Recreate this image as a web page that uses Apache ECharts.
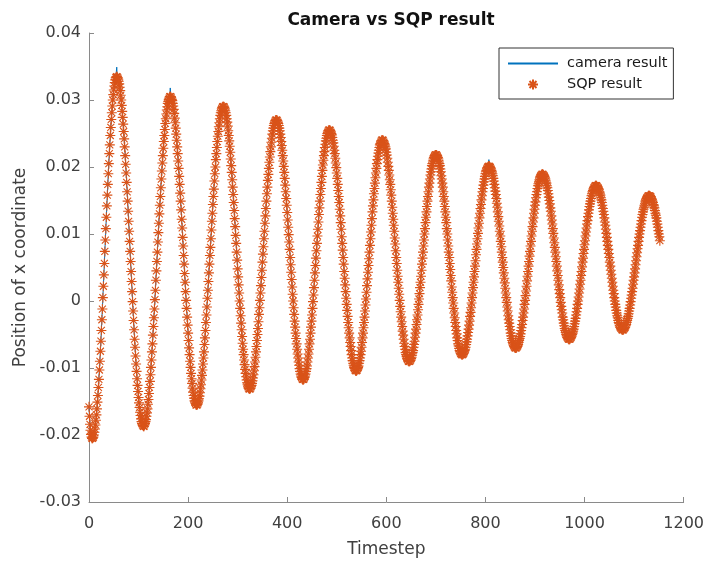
<!DOCTYPE html>
<html>
<head>
<meta charset="utf-8">
<title>Camera vs SQP result</title>
<script src="https://cdn.jsdelivr.net/npm/echarts@6/dist/echarts.min.js"></script>
<style>
  html, body { margin: 0; padding: 0; background: #fff; }
  #chart { width: 707px; height: 563px; }
</style>
</head>
<body>
<div id="chart"></div>
<script>
// x position of the tracked point, one value per timestep (t = 0, 1, 2, ...)
const sqpResult = [
  // t 0-7
  -0.0158, -0.0172, -0.0184, -0.0193, -0.0199, -0.0203, -0.0205, -0.0205,
  // t 8-56
  -0.0204, -0.0203, -0.0200, -0.0196, -0.0191, -0.0185, -0.0178, -0.0170, -0.0161, -0.0151,
  -0.0141, -0.0129, -0.0117, -0.0103, -0.0090, -0.0075, -0.0060, -0.0044, -0.0028, -0.0012,
  0.0005, 0.0022, 0.0039, 0.0056, 0.0074, 0.0091, 0.0108, 0.0125, 0.0142, 0.0158,
  0.0174, 0.0190, 0.0205, 0.0220, 0.0233, 0.0247, 0.0259, 0.0271, 0.0281, 0.0291,
  0.0300, 0.0308, 0.0315, 0.0321, 0.0326, 0.0330, 0.0333, 0.0334, 0.0335,
  // t 57-110
  0.0334, 0.0333, 0.0331, 0.0328, 0.0324, 0.0319, 0.0314, 0.0307, 0.0300, 0.0292,
  0.0283, 0.0274, 0.0264, 0.0253, 0.0242, 0.0230, 0.0217, 0.0204, 0.0191, 0.0177,
  0.0163, 0.0149, 0.0134, 0.0119, 0.0104, 0.0089, 0.0074, 0.0059, 0.0044, 0.0029,
  0.0014, -0.0001, -0.0015, -0.0029, -0.0043, -0.0057, -0.0069, -0.0082, -0.0094, -0.0105,
  -0.0116, -0.0126, -0.0135, -0.0144, -0.0152, -0.0159, -0.0166, -0.0171, -0.0176, -0.0180,
  -0.0183, -0.0185, -0.0186, -0.0187,
  // t 111-164
  -0.0187, -0.0185, -0.0183, -0.0180, -0.0177, -0.0172, -0.0167, -0.0161, -0.0154, -0.0147,
  -0.0138, -0.0129, -0.0120, -0.0110, -0.0099, -0.0088, -0.0076, -0.0064, -0.0051, -0.0038,
  -0.0025, -0.0012, 0.0002, 0.0016, 0.0031, 0.0045, 0.0059, 0.0073, 0.0088, 0.0102,
  0.0116, 0.0130, 0.0143, 0.0156, 0.0169, 0.0182, 0.0194, 0.0206, 0.0217, 0.0228,
  0.0238, 0.0247, 0.0256, 0.0265, 0.0272, 0.0279, 0.0285, 0.0290, 0.0295, 0.0298,
  0.0301, 0.0303, 0.0305, 0.0305,
  // t 165-217
  0.0305, 0.0303, 0.0301, 0.0299, 0.0295, 0.0291, 0.0286, 0.0280, 0.0273, 0.0266,
  0.0258, 0.0249, 0.0240, 0.0230, 0.0220, 0.0209, 0.0198, 0.0186, 0.0174, 0.0161,
  0.0149, 0.0136, 0.0122, 0.0109, 0.0095, 0.0082, 0.0068, 0.0055, 0.0041, 0.0028,
  0.0014, 0.0001, -0.0011, -0.0024, -0.0036, -0.0048, -0.0059, -0.0070, -0.0080, -0.0090,
  -0.0099, -0.0108, -0.0116, -0.0123, -0.0130, -0.0136, -0.0141, -0.0145, -0.0149, -0.0151,
  -0.0153, -0.0155, -0.0155,
  // t 218-271
  -0.0155, -0.0154, -0.0152, -0.0149, -0.0146, -0.0142, -0.0137, -0.0131, -0.0125, -0.0118,
  -0.0111, -0.0103, -0.0094, -0.0085, -0.0076, -0.0065, -0.0055, -0.0044, -0.0032, -0.0021,
  -0.0009, 0.0004, 0.0016, 0.0029, 0.0042, 0.0055, 0.0068, 0.0080, 0.0093, 0.0106,
  0.0119, 0.0131, 0.0144, 0.0156, 0.0167, 0.0179, 0.0190, 0.0200, 0.0211, 0.0220,
  0.0229, 0.0238, 0.0246, 0.0253, 0.0260, 0.0266, 0.0272, 0.0277, 0.0281, 0.0284,
  0.0287, 0.0289, 0.0290, 0.0290,
  // t 272-324
  0.0290, 0.0289, 0.0287, 0.0284, 0.0281, 0.0277, 0.0272, 0.0267, 0.0261, 0.0254,
  0.0247, 0.0239, 0.0231, 0.0222, 0.0212, 0.0202, 0.0192, 0.0181, 0.0170, 0.0159,
  0.0147, 0.0135, 0.0123, 0.0111, 0.0098, 0.0086, 0.0073, 0.0061, 0.0048, 0.0036,
  0.0024, 0.0012, 0.0000, -0.0011, -0.0022, -0.0033, -0.0043, -0.0053, -0.0063, -0.0072,
  -0.0080, -0.0088, -0.0095, -0.0102, -0.0108, -0.0113, -0.0118, -0.0122, -0.0125, -0.0128,
  -0.0130, -0.0131, -0.0131,
  // t 325-378
  -0.0131, -0.0130, -0.0128, -0.0126, -0.0123, -0.0119, -0.0115, -0.0110, -0.0104, -0.0098,
  -0.0091, -0.0084, -0.0076, -0.0068, -0.0059, -0.0050, -0.0041, -0.0031, -0.0020, -0.0010,
  0.0001, 0.0012, 0.0023, 0.0035, 0.0046, 0.0058, 0.0070, 0.0081, 0.0093, 0.0104,
  0.0116, 0.0127, 0.0138, 0.0149, 0.0160, 0.0170, 0.0180, 0.0189, 0.0198, 0.0207,
  0.0215, 0.0223, 0.0230, 0.0237, 0.0243, 0.0249, 0.0254, 0.0258, 0.0262, 0.0265,
  0.0267, 0.0269, 0.0270, 0.0270,
  // t 379-432
  0.0270, 0.0269, 0.0267, 0.0265, 0.0262, 0.0258, 0.0254, 0.0249, 0.0244, 0.0238,
  0.0232, 0.0225, 0.0217, 0.0209, 0.0201, 0.0192, 0.0183, 0.0173, 0.0163, 0.0153,
  0.0143, 0.0132, 0.0121, 0.0110, 0.0099, 0.0088, 0.0077, 0.0065, 0.0054, 0.0043,
  0.0032, 0.0021, 0.0010, 0.0000, -0.0010, -0.0020, -0.0030, -0.0039, -0.0048, -0.0056,
  -0.0064, -0.0072, -0.0079, -0.0085, -0.0091, -0.0096, -0.0101, -0.0105, -0.0109, -0.0112,
  -0.0114, -0.0116, -0.0117, -0.0117,
  // t 433-485
  -0.0117, -0.0116, -0.0114, -0.0112, -0.0109, -0.0105, -0.0101, -0.0097, -0.0091, -0.0085,
  -0.0079, -0.0072, -0.0064, -0.0057, -0.0048, -0.0039, -0.0030, -0.0021, -0.0011, -0.0001,
  0.0009, 0.0020, 0.0031, 0.0042, 0.0053, 0.0064, 0.0075, 0.0086, 0.0097, 0.0107,
  0.0118, 0.0129, 0.0139, 0.0149, 0.0159, 0.0168, 0.0177, 0.0186, 0.0195, 0.0203,
  0.0210, 0.0217, 0.0223, 0.0229, 0.0234, 0.0239, 0.0243, 0.0247, 0.0250, 0.0252,
  0.0254, 0.0255, 0.0255,
  // t 486-539
  0.0255, 0.0254, 0.0252, 0.0250, 0.0248, 0.0244, 0.0240, 0.0236, 0.0231, 0.0225,
  0.0220, 0.0213, 0.0206, 0.0199, 0.0191, 0.0183, 0.0174, 0.0165, 0.0156, 0.0147,
  0.0137, 0.0127, 0.0117, 0.0107, 0.0096, 0.0086, 0.0076, 0.0065, 0.0055, 0.0044,
  0.0034, 0.0024, 0.0014, 0.0004, -0.0005, -0.0014, -0.0023, -0.0032, -0.0040, -0.0048,
  -0.0055, -0.0062, -0.0068, -0.0074, -0.0080, -0.0085, -0.0089, -0.0093, -0.0096, -0.0099,
  -0.0101, -0.0103, -0.0104, -0.0104,
  // t 540-592
  -0.0104, -0.0103, -0.0101, -0.0099, -0.0097, -0.0093, -0.0089, -0.0085, -0.0080, -0.0075,
  -0.0069, -0.0062, -0.0055, -0.0048, -0.0040, -0.0032, -0.0024, -0.0015, -0.0006, 0.0003,
  0.0013, 0.0023, 0.0033, 0.0043, 0.0053, 0.0063, 0.0073, 0.0083, 0.0093, 0.0103,
  0.0113, 0.0123, 0.0133, 0.0142, 0.0151, 0.0160, 0.0168, 0.0176, 0.0184, 0.0191,
  0.0198, 0.0205, 0.0211, 0.0216, 0.0221, 0.0225, 0.0229, 0.0233, 0.0235, 0.0237,
  0.0239, 0.0240, 0.0240,
  // t 593-646
  0.0240, 0.0239, 0.0237, 0.0235, 0.0233, 0.0230, 0.0227, 0.0222, 0.0218, 0.0213,
  0.0207, 0.0201, 0.0195, 0.0188, 0.0181, 0.0174, 0.0166, 0.0158, 0.0149, 0.0140,
  0.0131, 0.0122, 0.0113, 0.0104, 0.0094, 0.0085, 0.0075, 0.0065, 0.0056, 0.0046,
  0.0037, 0.0028, 0.0019, 0.0010, 0.0001, -0.0008, -0.0016, -0.0024, -0.0031, -0.0038,
  -0.0045, -0.0051, -0.0057, -0.0063, -0.0068, -0.0072, -0.0077, -0.0080, -0.0083, -0.0086,
  -0.0087, -0.0089, -0.0090, -0.0090,
  // t 647-700
  -0.0090, -0.0089, -0.0088, -0.0086, -0.0084, -0.0081, -0.0077, -0.0074, -0.0069, -0.0065,
  -0.0060, -0.0054, -0.0048, -0.0042, -0.0035, -0.0028, -0.0021, -0.0013, -0.0005, 0.0003,
  0.0011, 0.0020, 0.0028, 0.0037, 0.0046, 0.0055, 0.0064, 0.0073, 0.0082, 0.0091,
  0.0100, 0.0108, 0.0117, 0.0125, 0.0133, 0.0141, 0.0149, 0.0156, 0.0163, 0.0170,
  0.0176, 0.0182, 0.0188, 0.0193, 0.0197, 0.0202, 0.0205, 0.0209, 0.0212, 0.0214,
  0.0216, 0.0217, 0.0218, 0.0218,
  // t 701-753
  0.0218, 0.0217, 0.0216, 0.0214, 0.0212, 0.0209, 0.0205, 0.0202, 0.0197, 0.0193,
  0.0187, 0.0182, 0.0176, 0.0170, 0.0163, 0.0156, 0.0149, 0.0141, 0.0133, 0.0125,
  0.0117, 0.0108, 0.0100, 0.0091, 0.0082, 0.0073, 0.0065, 0.0056, 0.0047, 0.0038,
  0.0030, 0.0021, 0.0013, 0.0005, -0.0003, -0.0011, -0.0018, -0.0025, -0.0032, -0.0038,
  -0.0044, -0.0049, -0.0055, -0.0059, -0.0064, -0.0067, -0.0071, -0.0074, -0.0076, -0.0078,
  -0.0079, -0.0080, -0.0080,
  // t 754-807
  -0.0080, -0.0079, -0.0078, -0.0076, -0.0074, -0.0072, -0.0069, -0.0065, -0.0061, -0.0057,
  -0.0052, -0.0047, -0.0042, -0.0036, -0.0030, -0.0023, -0.0017, -0.0010, -0.0003, 0.0005,
  0.0012, 0.0020, 0.0028, 0.0036, 0.0044, 0.0052, 0.0060, 0.0069, 0.0077, 0.0085,
  0.0093, 0.0101, 0.0109, 0.0116, 0.0124, 0.0131, 0.0138, 0.0144, 0.0151, 0.0157,
  0.0163, 0.0168, 0.0173, 0.0178, 0.0182, 0.0186, 0.0190, 0.0193, 0.0195, 0.0197,
  0.0199, 0.0200, 0.0201, 0.0201,
  // t 808-861
  0.0201, 0.0200, 0.0199, 0.0197, 0.0195, 0.0193, 0.0190, 0.0187, 0.0183, 0.0179,
  0.0174, 0.0169, 0.0164, 0.0159, 0.0153, 0.0146, 0.0140, 0.0133, 0.0126, 0.0119,
  0.0112, 0.0104, 0.0097, 0.0089, 0.0081, 0.0073, 0.0065, 0.0058, 0.0050, 0.0042,
  0.0034, 0.0027, 0.0019, 0.0012, 0.0005, -0.0002, -0.0009, -0.0015, -0.0022, -0.0028,
  -0.0033, -0.0038, -0.0043, -0.0048, -0.0052, -0.0056, -0.0059, -0.0062, -0.0064, -0.0066,
  -0.0068, -0.0069, -0.0070, -0.0070,
  // t 862-915
  -0.0070, -0.0069, -0.0068, -0.0067, -0.0065, -0.0062, -0.0059, -0.0056, -0.0053, -0.0049,
  -0.0044, -0.0040, -0.0035, -0.0029, -0.0024, -0.0018, -0.0012, -0.0005, 0.0001, 0.0008,
  0.0015, 0.0022, 0.0030, 0.0037, 0.0044, 0.0052, 0.0059, 0.0067, 0.0074, 0.0082,
  0.0089, 0.0097, 0.0104, 0.0111, 0.0118, 0.0124, 0.0131, 0.0137, 0.0143, 0.0148,
  0.0154, 0.0159, 0.0163, 0.0168, 0.0172, 0.0175, 0.0178, 0.0181, 0.0184, 0.0186,
  0.0187, 0.0188, 0.0189, 0.0189,
  // t 916-969
  0.0189, 0.0188, 0.0187, 0.0186, 0.0184, 0.0182, 0.0179, 0.0176, 0.0172, 0.0169,
  0.0165, 0.0160, 0.0155, 0.0150, 0.0145, 0.0139, 0.0134, 0.0127, 0.0121, 0.0115,
  0.0108, 0.0101, 0.0094, 0.0087, 0.0080, 0.0073, 0.0066, 0.0059, 0.0052, 0.0045,
  0.0038, 0.0031, 0.0024, 0.0017, 0.0011, 0.0005, -0.0002, -0.0008, -0.0013, -0.0018,
  -0.0024, -0.0028, -0.0033, -0.0037, -0.0041, -0.0044, -0.0047, -0.0050, -0.0052, -0.0054,
  -0.0055, -0.0056, -0.0057, -0.0057,
  // t 970-1023
  -0.0057, -0.0056, -0.0055, -0.0054, -0.0052, -0.0050, -0.0048, -0.0045, -0.0042, -0.0038,
  -0.0034, -0.0030, -0.0026, -0.0021, -0.0016, -0.0011, -0.0005, 0.0000, 0.0006, 0.0012,
  0.0018, 0.0025, 0.0031, 0.0038, 0.0044, 0.0051, 0.0058, 0.0064, 0.0071, 0.0077,
  0.0084, 0.0090, 0.0097, 0.0103, 0.0109, 0.0115, 0.0120, 0.0126, 0.0131, 0.0136,
  0.0141, 0.0145, 0.0149, 0.0153, 0.0157, 0.0160, 0.0163, 0.0165, 0.0167, 0.0169,
  0.0170, 0.0171, 0.0172, 0.0172,
  // t 1024-1077
  0.0172, 0.0171, 0.0170, 0.0169, 0.0168, 0.0166, 0.0163, 0.0161, 0.0158, 0.0154,
  0.0151, 0.0147, 0.0143, 0.0138, 0.0134, 0.0129, 0.0124, 0.0118, 0.0113, 0.0107,
  0.0101, 0.0095, 0.0089, 0.0083, 0.0077, 0.0071, 0.0065, 0.0058, 0.0052, 0.0046,
  0.0040, 0.0034, 0.0028, 0.0022, 0.0016, 0.0011, 0.0005, 0.0000, -0.0005, -0.0009,
  -0.0014, -0.0018, -0.0022, -0.0025, -0.0029, -0.0032, -0.0034, -0.0037, -0.0039, -0.0040,
  -0.0041, -0.0042, -0.0043, -0.0043,
  // t 1078-1130
  -0.0043, -0.0042, -0.0041, -0.0040, -0.0039, -0.0037, -0.0035, -0.0032, -0.0029, -0.0026,
  -0.0023, -0.0019, -0.0015, -0.0011, -0.0006, -0.0001, 0.0004, 0.0009, 0.0014, 0.0019,
  0.0025, 0.0031, 0.0036, 0.0042, 0.0048, 0.0054, 0.0060, 0.0066, 0.0072, 0.0078,
  0.0083, 0.0089, 0.0095, 0.0100, 0.0105, 0.0110, 0.0115, 0.0120, 0.0125, 0.0129,
  0.0133, 0.0137, 0.0140, 0.0143, 0.0146, 0.0149, 0.0151, 0.0153, 0.0154, 0.0155,
  0.0156, 0.0157, 0.0157,
  // t 1131-1152
  0.0157, 0.0156, 0.0156, 0.0155, 0.0153, 0.0151, 0.0149, 0.0147, 0.0144, 0.0142,
  0.0139, 0.0135, 0.0131, 0.0128, 0.0124, 0.0119, 0.0115, 0.0110, 0.0105, 0.0100,
  0.0096, 0.0090
];

// camera measurement: follows the SQP result except at these peaks [timestep, x]
const cameraPeaks = [
  [56, 0.0349], [164, 0.0318], [807, 0.0211], [915, 0.0193], [1023, 0.0179], [1130, 0.0163]
];

const xTicks = [0, 200, 400, 600, 800, 1000, 1200];
const yTicks = [-0.03, -0.02, -0.01, 0, 0.01, 0.02, 0.03, 0.04];

const seriesNames = ['camera result', 'SQP result'];

const peakMap = new Map(cameraPeaks);
const cameraResult = sqpResult.map((v, t) => peakMap.has(t) ? peakMap.get(t) : v);

const sqpData = sqpResult.map((v, t) => [t, v]);
const cameraData = cameraResult.map((v, t) => [t, v]);

const FONT = 'DejaVu Sans';
const TEXT = '#404040';
const AXIS = '#8a8a8a';
const ORANGE = '#D95319';
// MATLAB-style '*' marker: plus and cross strokes
const ASTERISK = 'path://M0,5L10,5M5,0L5,10M1.5,1.5L8.5,8.5M8.5,1.5L1.5,8.5';

const chart = echarts.init(document.getElementById('chart'), null, { renderer: 'canvas' });

chart.setOption({
  animation: false,
  backgroundColor: '#ffffff',
  title: {
    text: 'Camera vs SQP result',
    left: 386,
    top: 7,
    textAlign: 'center',
    textStyle: { fontFamily: FONT, fontWeight: 'bold', fontSize: 17, color: '#111' }
  },
  legend: {
    orient: 'vertical',
    left: 499,
    top: 48,
    itemWidth: 50,
    itemHeight: 10,
    itemGap: 6,
    padding: [8, 6, 7, 8],
    borderColor: '#333',
    borderWidth: 1,
    backgroundColor: '#fff',
    textStyle: { fontFamily: FONT, fontSize: 14.5, color: '#1a1a1a', padding: [0, 0, 0, 4] },
    data: [
      { name: seriesNames[0], itemStyle: { opacity: 0 } },
      { name: seriesNames[1] }
    ]
  },
  grid: { left: 89, right: 23, top: 33, bottom: 61, containLabel: false },
  xAxis: {
    type: 'value',
    min: xTicks[0],
    max: xTicks[xTicks.length - 1],
    interval: xTicks[1] - xTicks[0],
    name: 'Timestep',
    nameLocation: 'middle',
    nameGap: 39,
    nameTextStyle: { fontFamily: FONT, fontSize: 17, color: TEXT },
    axisLine: { show: true, onZero: false, lineStyle: { color: AXIS, width: 1 } },
    axisTick: { show: true, inside: true, length: 5, lineStyle: { color: AXIS } },
    axisLabel: {
      margin: 14, fontFamily: FONT, fontSize: 16, color: TEXT,
      formatter: v => String(v)
    },
    splitLine: { show: false }
  },
  yAxis: {
    type: 'value',
    min: yTicks[0],
    max: yTicks[yTicks.length - 1],
    interval: 0.01,
    name: 'Position of x coordinate',
    nameLocation: 'middle',
    nameGap: 56,
    nameTextStyle: { fontFamily: FONT, fontSize: 17, color: TEXT },
    axisLine: { show: true, lineStyle: { color: AXIS, width: 1 } },
    axisTick: { show: true, inside: true, length: 5, lineStyle: { color: AXIS } },
    axisLabel: {
      margin: 8, fontFamily: FONT, fontSize: 16, color: TEXT,
      formatter: v => (Math.abs(v) < 1e-9 ? '0' : v.toFixed(2))
    },
    splitLine: { show: false }
  },
  series: [
    {
      name: seriesNames[0],
      type: 'line',
      data: cameraData,
      symbol: 'none',
      lineStyle: { color: '#0072BD', width: 1 },
      itemStyle: { color: '#0072BD' },
      z: 2
    },
    {
      name: seriesNames[1],
      type: 'scatter',
      data: sqpData,
      symbol: ASTERISK,
      symbolSize: 10,
      symbolKeepAspect: true,
      itemStyle: { color: 'rgba(0,0,0,0)', borderColor: ORANGE, borderWidth: 1.1, opacity: 1 },
      z: 3
    }
  ]
});
</script>
</body>
</html>
